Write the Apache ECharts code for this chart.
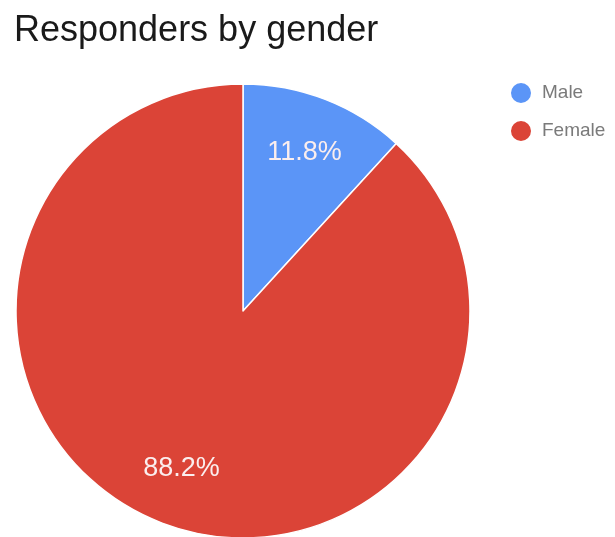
<!DOCTYPE html>
<html>
<head>
<meta charset="utf-8">
<script src="https://cdn.jsdelivr.net/npm/echarts@6/dist/echarts.min.js"></script>
<style>
  html, body { margin: 0; padding: 0; background: #fff; }
  #chart { width: 615px; height: 537px; }
</style>
</head>
<body>
<div id="chart"></div>
<script>
// Survey responders split by gender (percent of total)
const categories = ['Male', 'Female'];
const shares = [11.8, 88.2];
const colors = ['#5b95f7', '#db4437'];

const sliceData = categories.map((name, i) => ({
  name: name,
  value: shares[i],
  itemStyle: { color: colors[i] }
}));

const chart = echarts.init(document.getElementById('chart'));
chart.setOption({
  animation: false,
  backgroundColor: '#ffffff',
  title: {
    text: 'Responders by gender',
    left: 9,
    top: 8,
    textStyle: {
      fontFamily: 'Liberation Sans, Arial, sans-serif',
      fontSize: 36,
      fontWeight: 'normal',
      color: '#1a1a1a'
    }
  },
  legend: {
    data: categories,
    orient: 'vertical',
    left: 504,
    top: 76,
    icon: 'circle',
    itemWidth: 22,
    itemHeight: 22,
    itemGap: 14,
    textStyle: {
      fontFamily: 'Liberation Sans, Arial, sans-serif',
      fontSize: 19,
      color: '#7a7a7a',
      padding: [0, 0, 0, 5]
    }
  },
  series: [
    {
      // filled slices
      type: 'pie',
      center: [243, 311],
      radius: [0, 227],
      startAngle: 90,
      clockwise: true,
      silent: true,
      label: { show: false },
      labelLine: { show: false },
      itemStyle: { borderColor: '#ffffff', borderWidth: 1.5 },
      data: sliceData
    },
    {
      // transparent ring that carries the percentage labels further out
      type: 'pie',
      center: [243, 311],
      radius: [106, 227],
      startAngle: 90,
      clockwise: true,
      silent: true,
      itemStyle: { color: 'rgba(0,0,0,0)' },
      label: {
        show: true,
        position: 'inside',
        formatter: (p) => p.value.toFixed(1) + '%',
        fontFamily: 'Liberation Sans, Arial, sans-serif',
        fontSize: 27,
        color: '#fbeeee'
      },
      labelLine: { show: false },
      data: categories.map((name, i) => ({ name: name, value: shares[i] }))
    }
  ]
});
</script>
</body>
</html>
